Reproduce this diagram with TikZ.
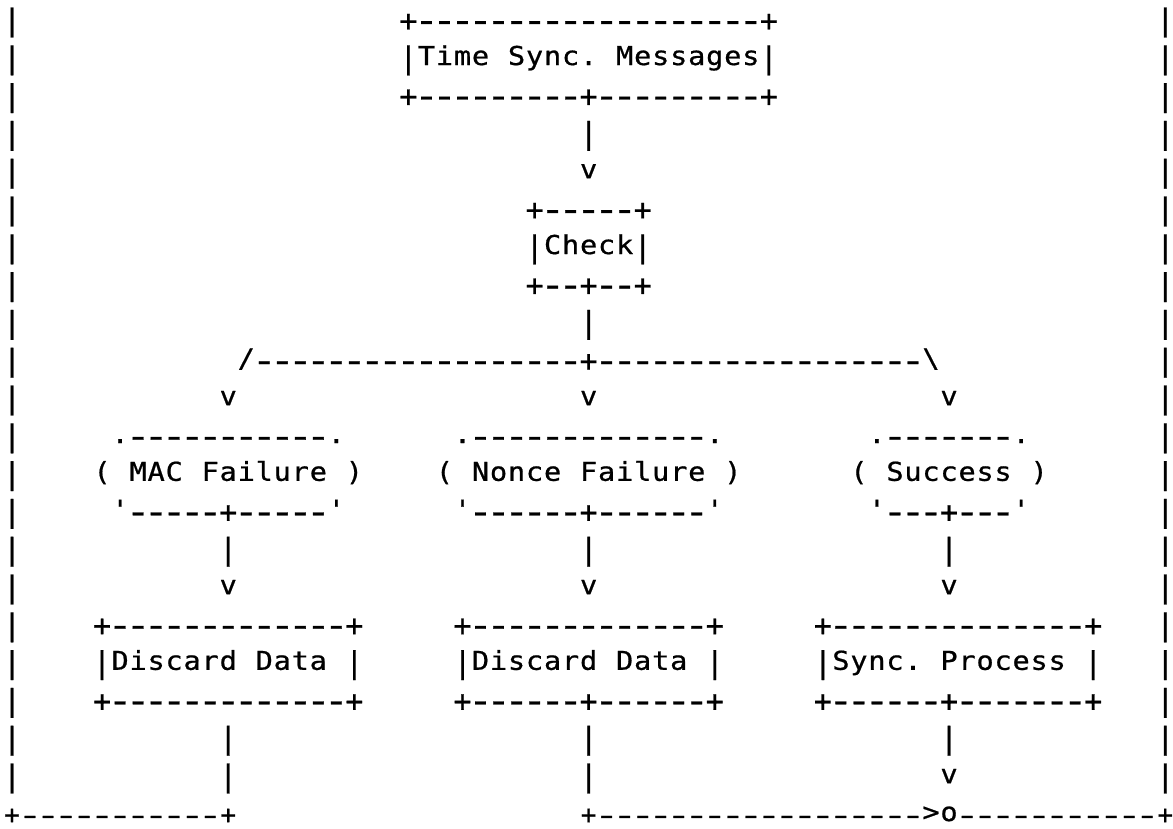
\documentclass[tikz,border=0pt]{standalone}
\usepackage{fontspec}
\usepackage{graphicx}
\setmonofont[FakeBold=0.7]{DejaVu Sans Mono}
\ExplSyntaxOn
\NewDocumentCommand \asccell { m }
  {
    \str_case:nnF { #1 }
      {
        { | } { \raisebox{-1.6pt}{\scalebox{1.15}[1.15]{|}} }
        { - } { \raisebox{-2.3pt}{\scalebox{1.6}[1.3]{-}} }
        { + } { \raisebox{-1.9pt}{\scalebox{1.15}[1.15]{+}} }
      }
      { \scalebox{1.1}[1]{#1} }
  }
\NewDocumentCommand \asccellB { m }
  {
    \str_case:nnF { #1 }
      {
        { - } { \raisebox{-1.5pt}{\scalebox{1.6}[1]{-}} }
        { + } { \raisebox{-1.3pt}{+} }
      }
      { \scalebox{1.1}[1]{#1} }
  }
\NewDocumentCommand \cells { m }
  {
    \str_map_inline:nn { #1 }
      { \hbox_to_wd:nn { 9.01pt } { \hss \asccell { ##1 } \hss } }
  }
\NewDocumentCommand \cellsB { m }
  {
    \str_map_inline:nn { #1 }
      { \hbox_to_wd:nn { 9.01pt } { \hss \asccellB { ##1 } \hss } }
  }
\ExplSyntaxOff
\tikzset{
  asc/.style={anchor=base west, inner sep=0pt, outer sep=0pt,
    font=\ttfamily\fontsize{13}{13}\selectfont, text=black}
}
\newcommand\putrun[4]{\node[asc] (#1) at (#2+0.1665,#3-0.2804) {\cells{#4}};}
\begin{document}
\begin{tikzpicture}[x=9.01pt,y=-18.9pt]
\fill[white] (0,0) rectangle (65.094,21.905);
\useasboundingbox (0,0) rectangle (65.094,21.905);
% outer frame verticals
\foreach \r in {1,...,21} {
  \node[asc] (L\r) at (0.1665,\r-0.2804) {\cells{|}};
  \node[asc] (R\r) at (64.1665,\r-0.2804) {\cells{|}};
}
% Time Sync. Messages box
\putrun{tsmTop}{22}{1}{+-------------------+}
\putrun{tsm}{22}{2}{|Time Sync. Messages|}
\putrun{tsmBot}{22}{3}{+---------+---------+}
\putrun{a1}{32}{4}{|}
\putrun{a1h}{32}{5}{v}
% Check box
\putrun{chkTop}{29}{6}{+-----+}
\putrun{chk}{29}{7}{|Check|}
\putrun{chkBot}{29}{8}{+--+--+}
\putrun{a2}{32}{9}{|}
% split
\putrun{slash}{13}{10}{/}
\putrun{split}{14}{10}{------------------+------------------}
\node[asc] (bslash) at (51.1665,10-0.2804) {\hbox to 9.01pt{\hss\scalebox{1.1}[1]{\textbackslash}\hss}};
\putrun{vL}{12}{11}{v}
\putrun{vM}{32}{11}{v}
\putrun{vR}{52}{11}{v}
% outcome ovals
\putrun{macTop}{6}{12}{.-----------.}
\putrun{nonTop}{25}{12}{.-------------.}
\putrun{sucTop}{48}{12}{.-------.}
\putrun{mac}{5}{13}{( MAC Failure )}
\putrun{non}{24}{13}{( Nonce Failure )}
\putrun{suc}{47}{13}{( Success )}
\putrun{macBot}{6}{14}{'-----+-----'}
\putrun{nonBot}{25}{14}{'------+------'}
\putrun{sucBot}{48}{14}{'---+---'}
\putrun{bL1}{12}{15}{|}
\putrun{bM1}{32}{15}{|}
\putrun{bR1}{52}{15}{|}
\putrun{hL1}{12}{16}{v}
\putrun{hM1}{32}{16}{v}
\putrun{hR1}{52}{16}{v}
% action boxes
\putrun{dd1Top}{5}{17}{+-------------+}
\putrun{dd2Top}{25}{17}{+-------------+}
\putrun{spTop}{45}{17}{+--------------+}
\putrun{dd1}{5}{18}{|Discard Data |}
\putrun{dd2}{25}{18}{|Discard Data |}
\putrun{sp}{45}{18}{|Sync. Process |}
\putrun{dd1Bot}{5}{19}{+-------------+}
\putrun{dd2Bot}{25}{19}{+------+------+}
\putrun{spBot}{45}{19}{+------+-------+}
\putrun{cL1}{12}{20}{|}
\putrun{cM1}{32}{20}{|}
\putrun{cR1}{52}{20}{|}
\putrun{cL2}{12}{21}{|}
\putrun{cM2}{32}{21}{|}
\putrun{cR2}{52}{21}{v}
% bottom line
\node[asc] (botL) at (0.1665,22-0.2804) {\cellsB{+-----------+}};
\node[asc] (botR) at (32.1665,22-0.2804) {\cellsB{+------------------>o-----------+}};
\end{tikzpicture}
\end{document}
